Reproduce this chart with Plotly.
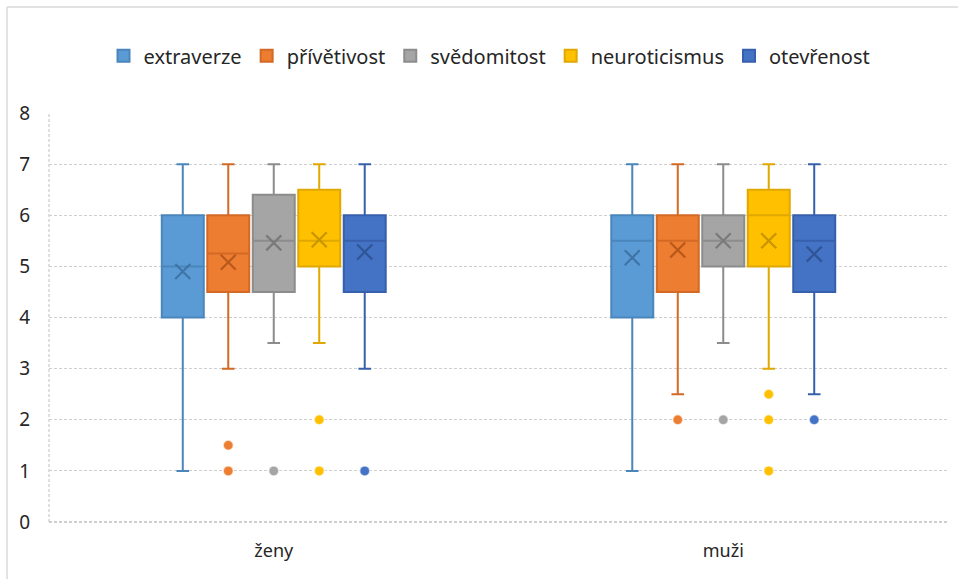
import plotly.graph_objects as go

categories = ["ženy", "muži"]
traits = ["extraverze", "přívětivost", "svědomitost", "neuroticismus", "otevřenost"]
fill_colors = ["#5B9BD5", "#ED7D31", "#A5A5A5", "#FFC000", "#4472C4"]
line_colors = ["#4A85BC", "#D26A25", "#8C8C8C", "#E0A800", "#3760AC"]
mean_colors = ["#3F74A6", "#B9581B", "#7A7A7A", "#C79500", "#2F5597"]

# stats per trait: [ženy, muži]
lower = [[1, 1], [3, 2.5], [3.5, 3.5], [3.5, 3], [3, 2.5]]
q1 = [[4, 4], [4.5, 4.5], [4.5, 5], [5, 5], [4.5, 4.5]]
median = [[5, 5.5], [5.25, 5.5], [5.5, 5.5], [5.5, 6], [5.5, 5.5]]
q3 = [[6, 6], [6, 6], [6.4, 6], [6.5, 6.5], [6, 6]]
upper = [[7, 7], [7, 7], [7, 7], [7, 7], [7, 7]]
mean = [[4.9, 5.17], [5.08, 5.32], [5.46, 5.5], [5.52, 5.5], [5.28, 5.24]]
outliers = [
    [[], []],
    [[1, 1.5], [2]],
    [[1], [2]],
    [[1, 2], [1, 2, 2.5]],
    [[1], [2]],
]

pitch = 0.1012
box_w = 0.0934
group_pos = [0, 1]

fig = go.Figure()
for k, t in enumerate(traits):
    off = (k - 2) * pitch
    xs = [g + off for g in group_pos]
    fig.add_trace(go.Box(
        name=t, x=xs, q1=q1[k], median=median[k], q3=q3[k],
        lowerfence=lower[k], upperfence=upper[k],
        width=box_w, whiskerwidth=0.3,
        fillcolor=fill_colors[k],
        line=dict(color=line_colors[k], width=2),
        boxpoints=False, legendgroup=t, showlegend=True,
    ))
    fig.add_trace(go.Scatter(
        x=xs, y=mean[k], mode="markers",
        marker=dict(symbol="x-thin-open", size=15, color=mean_colors[k],
                    line=dict(color=mean_colors[k], width=2.2)),
        legendgroup=t, showlegend=False, hoverinfo="y",
    ))
    ox, oy = [], []
    for gi, g in enumerate(group_pos):
        for v in outliers[k][gi]:
            ox.append(g + off)
            oy.append(v)
    if ox:
        fig.add_trace(go.Scatter(
            x=ox, y=oy, mode="markers",
            marker=dict(symbol="circle", size=10, color=fill_colors[k],
                        line=dict(color="rgba(255,255,255,0.6)", width=1.5)),
            legendgroup=t, showlegend=False, hoverinfo="y",
        ))

fig.update_layout(
    width=958, height=579,
    margin=dict(l=49, r=10, t=113, b=57),
    paper_bgcolor="white", plot_bgcolor="white",
    font=dict(family="Noto Sans, Open Sans, sans-serif", size=18, color="#262626"),
    showlegend=True,
    legend=dict(orientation="h", x=0.49, xanchor="center", y=1.14, yanchor="middle",
                font=dict(size=20, color="#262626"), itemwidth=30,
                traceorder="normal"),
    xaxis=dict(range=[-0.5, 1.5], tickvals=group_pos, ticktext=categories,
               showgrid=False, zeroline=False, showline=False, ticks="",
               ticklabelstandoff=16,
               tickfont=dict(size=18, color="#262626")),
    yaxis=dict(range=[0, 8], dtick=1, showgrid=True, gridcolor="#CFCFCF",
               griddash="3px,2px", gridwidth=1.3, zeroline=False, showline=False,
               ticks="", ticklabelstandoff=18,
               tickfont=dict(size=19, color="#262626")),
)

# left dashed axis line and outer frame
fig.add_shape(type="line", xref="paper", yref="paper", x0=0, x1=0, y0=0, y1=1,
              line=dict(color="#CFCFCF", width=1.3, dash="3px,2px"))
fig.add_shape(type="line", xref="paper", yref="paper", x0=0, x1=1, y0=0, y1=0,
              line=dict(color="#C0C0C0", width=1.3, dash="3px,2px"))
fig.add_shape(type="line", xref="paper", yref="paper", x0=-0.0467, x1=-0.0467,
              y0=-0.2, y1=1.259, line=dict(color="#D9D9D9", width=1.5))
fig.add_shape(type="line", xref="paper", yref="paper", x0=-0.0467, x1=1.02,
              y0=1.259, y1=1.259, line=dict(color="#D9D9D9", width=1.5))

fig.write_html("out.html")
